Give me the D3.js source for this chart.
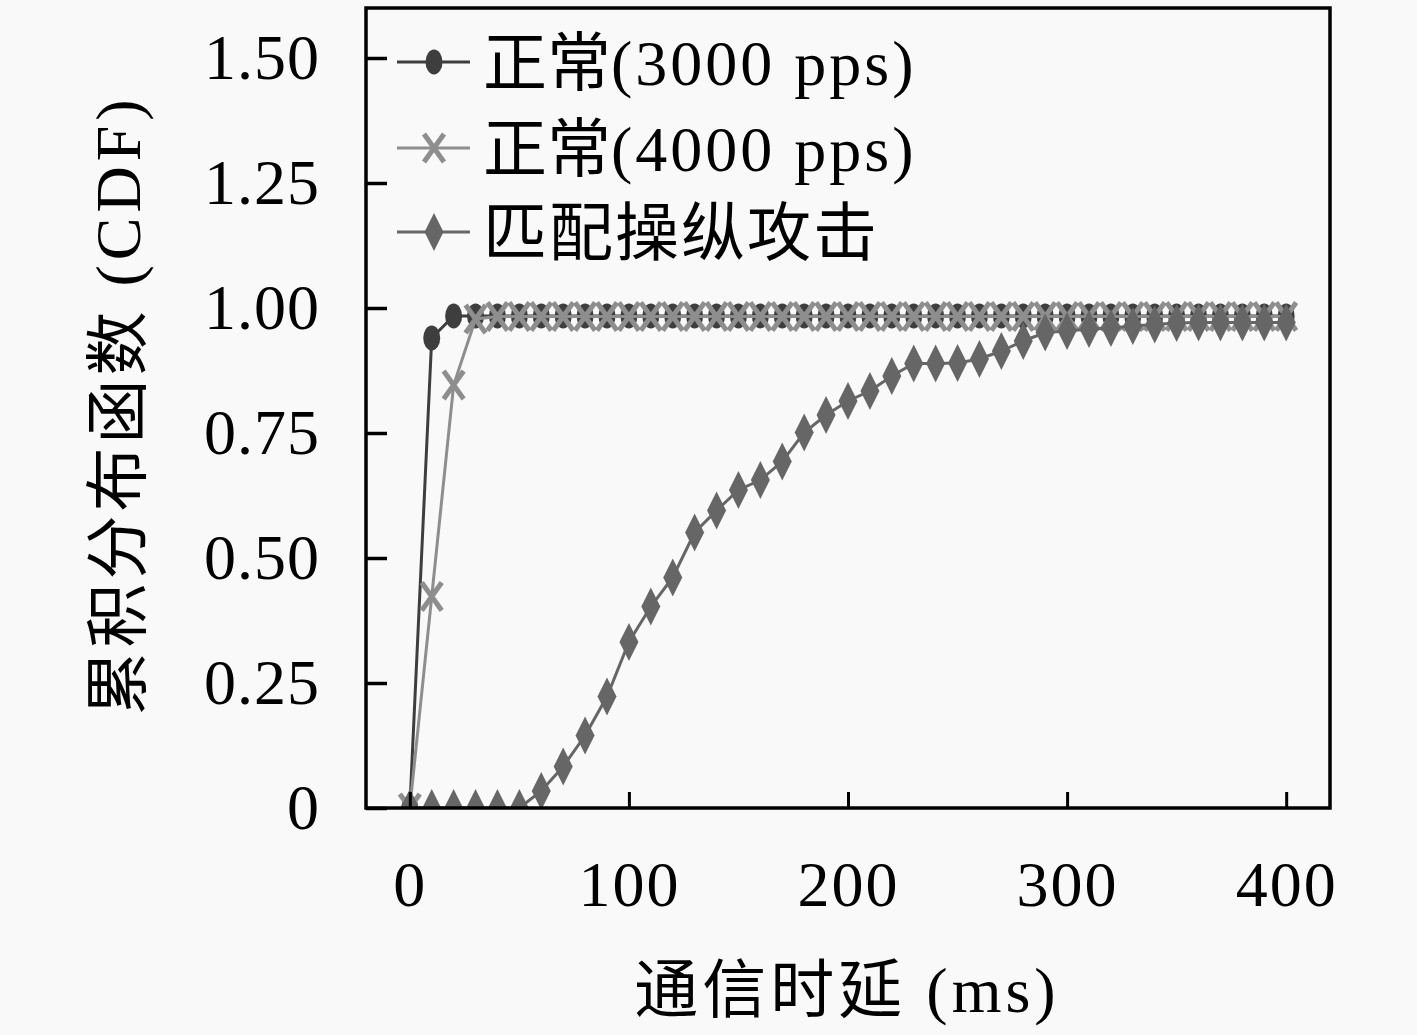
<!DOCTYPE html>
<html><head><meta charset="utf-8">
<script src="https://cdn.jsdelivr.net/npm/d3@7"></script>
<style>
html,body{margin:0;padding:0;background:#f9f9f9;}
svg{display:block;}
text{font-family:"Liberation Serif","DejaVu Serif","Noto Sans CJK SC",serif;fill:#000;}
</style></head><body>
<svg id="c" width="1417" height="1035"></svg>
<script>
const xValues = [0,10,20,30,40,50,60,70,80,90,100,110,120,130,140,150,160,170,180,190,200,210,220,230,240,250,260,270,280,290,300,310,320,330,340,350,360,370,380,390,400];
const normal3000 = [0,0.940,0.984,0.984,0.984,0.984,0.984,0.984,0.984,0.984,0.984,0.984,0.984,0.984,0.984,0.984,0.984,0.984,0.984,0.984,0.984,0.984,0.984,0.984,0.984,0.984,0.984,0.984,0.984,0.984,0.984,0.984,0.984,0.984,0.984,0.984,0.984,0.984,0.984,0.984,0.984];
const normal4000 = [0,0.423,0.846,0.978,0.983,0.983,0.983,0.983,0.983,0.983,0.983,0.983,0.983,0.983,0.983,0.983,0.983,0.983,0.983,0.983,0.983,0.983,0.983,0.983,0.983,0.983,0.983,0.983,0.983,0.983,0.983,0.983,0.983,0.983,0.983,0.983,0.983,0.983,0.983,0.983,0.983];
const attack = [0,0,0,0,0,0,0.034,0.083,0.145,0.223,0.332,0.403,0.461,0.551,0.595,0.636,0.656,0.693,0.751,0.786,0.814,0.834,0.864,0.889,0.889,0.890,0.898,0.914,0.934,0.951,0.954,0.958,0.960,0.964,0.967,0.970,0.971,0.971,0.971,0.971,0.971];
const seriesNames = [["正常","(3000 pps)"],["正常","(4000 pps)"],["匹配操纵攻击",""]];
const xTicks = [0,100,200,300,400];
const yTicks = [0,0.25,0.5,0.75,1.0,1.25,1.5];
const yTickLabels = ["0","0.25","0.50","0.75","1.00","1.25","1.50"];
const xTitle = ["通信时延"," (ms)"];
const yTitle = ["累积分布函数"," (CDF)"];

const svg = d3.select("#c");
const L=366, R=1330, T=8, B=808;
const x = d3.scaleLinear().domain([-20,420]).range([L,R]);
const y = d3.scaleLinear().domain([0,1.6]).range([B,T]);

const series = [
  {name:seriesNames[0], vals:normal3000, color:"#3e3e3e", marker:"circle"},
  {name:seriesNames[1], vals:normal4000, color:"#8e8e8e", marker:"x"},
  {name:seriesNames[2], vals:attack, color:"#666666", marker:"diamond"}
];

svg.append("defs").append("clipPath").attr("id","clip")
  .append("rect").attr("x",L).attr("y",T).attr("width",R-L).attr("height",B-T);

function drawMarker(g, type, cx, cy, color){
  if(type==="circle"){
    g.append("ellipse").attr("cx",cx).attr("cy",cy).attr("rx",8.5).attr("ry",12.5).attr("fill",color);
  } else if(type==="x"){
    const w=10,h=14;
    g.append("path").attr("d",`M${cx-w},${cy-h}L${cx+w},${cy+h}M${cx-w},${cy+h}L${cx+w},${cy-h}`)
      .attr("stroke",color).attr("stroke-width",5).attr("fill","none");
  } else {
    const w=9.5,h=19;
    g.append("path").attr("d",`M${cx},${cy-h}L${cx+w},${cy}L${cx},${cy+h}L${cx-w},${cy}Z`).attr("fill",color);
  }
}

const plot = svg.append("g").attr("clip-path","url(#clip)");
const line = d3.line().x((d,i)=>x(xValues[i])).y(d=>y(d));
series.forEach(s=>{
  const g = plot.append("g");
  g.append("path").datum(s.vals).attr("d",line).attr("fill","none").attr("stroke",s.color).attr("stroke-width",3);
  s.vals.forEach((v,i)=>drawMarker(g,s.marker,x(xValues[i]),y(v),s.color));
});

// axes
const xAxis = d3.axisBottom(x).tickValues(xTicks).tickSizeInner(-16).tickSizeOuter(0).tickPadding(0).tickFormat(d3.format("d"));
const gx = svg.append("g").attr("transform",`translate(0,${B})`).call(xAxis);
gx.select(".domain").remove();
gx.selectAll(".tick line").attr("stroke","#000").attr("stroke-width",3);
gx.selectAll(".tick text").attr("font-size",64).attr("y",null).attr("dy",null).attr("letter-spacing",2).attr("transform","translate(0,98)");

const yAxis = d3.axisLeft(y).tickValues(yTicks).tickSizeInner(-21).tickSizeOuter(0).tickPadding(0).tickFormat((d,i)=>yTickLabels[i]);
const gy = svg.append("g").attr("transform",`translate(${L},0)`).call(yAxis);
gy.select(".domain").remove();
gy.selectAll(".tick line").attr("stroke","#000").attr("stroke-width",3.5);
gy.selectAll(".tick text").attr("font-size",64).attr("x",-46).attr("dy","0.32em").attr("letter-spacing",1);

svg.append("rect").attr("x",L).attr("y",T).attr("width",R-L).attr("height",B-T)
  .attr("fill","none").attr("stroke","#000").attr("stroke-width",3.5);

// titles
const xt = svg.append("text").attr("x",847).attr("y",1012).attr("text-anchor","middle").attr("font-size",64);
xt.append("tspan").attr("letter-spacing",4).text(xTitle[0]);
xt.append("tspan").attr("letter-spacing",4).text(xTitle[1]);
const yt = svg.append("text").attr("transform","translate(140,405) rotate(-90)").attr("text-anchor","middle").attr("font-size",64);
yt.append("tspan").attr("letter-spacing",4).text(yTitle[0]);
yt.append("tspan").attr("letter-spacing",5).text(yTitle[1]);

// legend
const legY = [62,148,232];
series.forEach((s,i)=>{
  const g = svg.append("g");
  g.append("line").attr("x1",397).attr("x2",470).attr("y1",legY[i]).attr("y2",legY[i]).attr("stroke",s.color).attr("stroke-width",3);
  drawMarker(g,s.marker,434,legY[i],s.color);
  const t = g.append("text").attr("x",483).attr("y",legY[i]).attr("dy","0.36em").attr("font-size",64);
  t.append("tspan").attr("letter-spacing",s.name[1]?0:2).text(s.name[0]);
  if(s.name[1]) t.append("tspan").attr("letter-spacing",3).text(s.name[1]);
});
</script>
</body></html>
